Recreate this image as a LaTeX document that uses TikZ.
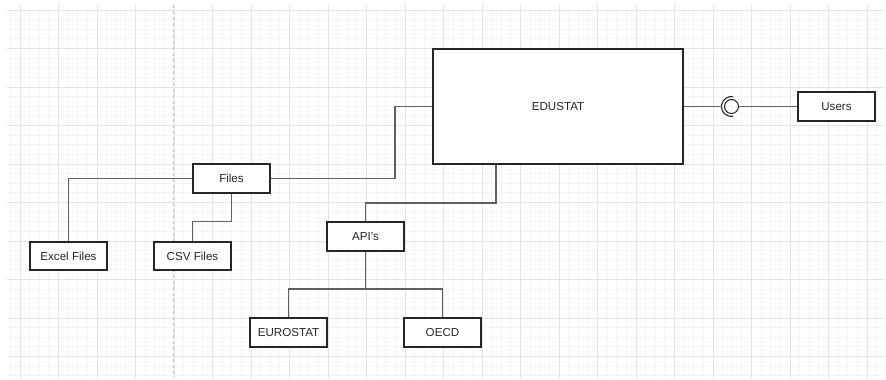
\documentclass[tikz,border=0pt]{standalone}
\usepackage{fontspec}
\setmainfont{Liberation Sans}
\usetikzlibrary{calc}
\definecolor{gridminor}{HTML}{F5F5F5}
\definecolor{gridmajor}{HTML}{E4E4E4}
\definecolor{pagebreak}{HTML}{C4C4C4}
\definecolor{wire}{HTML}{606060}
\definecolor{edge}{HTML}{262626}
\begin{document}
\begin{tikzpicture}[x=0.75pt,y=-0.75pt,
  box/.style={draw=edge,line width=0.8pt,fill=white,minimum width=57.75pt,
    minimum height=21.75pt,inner sep=0pt,text=black!85,font=\fontsize{8.7}{10}\selectfont},
  link/.style={draw=wire,line width=1pt},
  minorline/.style={draw=gridminor,line width=0.75pt},
  majorline/.style={draw=gridmajor,line width=0.75pt}]
\useasboundingbox (0,0) rectangle (886,379);
\fill[white] (0,0) rectangle (886,379);
% background grid
\begin{scope}
  \clip (7,5) rectangle (884,378);
  \foreach \i in {-1,...,91} \draw[minorline] ({20+9.625*\i},5) -- ({20+9.625*\i},378);
  \foreach \j in {-1,...,39} \draw[minorline] (7,{10+9.625*\j}) -- (884,{10+9.625*\j});
  \foreach \i in {0,...,22} \draw[majorline] ({20+38.5*\i},5) -- ({20+38.5*\i},378);
  \foreach \j in {0,...,9} \draw[majorline] (7,{10+38.5*\j}) -- (884,{10+38.5*\j});
\end{scope}
% page break
\draw[pagebreak,line width=0.75pt,dash pattern=on 2.5pt off 2pt] (173.3,5) -- (173.3,378);

% nodes
\node[box,minimum width=187.5pt,minimum height=86.25pt] (edustat) at (558,106.5) {EDUSTAT};
\node[box] (users) at (836.5,106.5) {Users};
\node[box] (files) at (231.5,178.5) {Files};
\node[box,minimum height=21pt] (excel) at (68.5,256) {Excel Files};
\node[box,minimum height=21pt] (csv) at (192.5,256) {CSV Files};
\node[box] (apis) at (365.5,236.5) {API's};
\node[box] (eurostat) at (288.5,332.5) {EUROSTAT};
\node[box] (oecd) at (442.5,332.5) {OECD};

% ball-and-socket interface
\node[draw=edge,line width=0.8pt,circle,minimum size=10.5pt,inner sep=0pt] (ball) at (731.5,106.5) {};
\coordinate (sock) at ($(ball.center)+(-7.5pt,0)$);
\draw[edge,line width=0.8pt] ([shift={(ball.center)}]80:7.5pt) arc (80:280:7.5pt);

% connectors
\coordinate (fj) at (231.5,221.5);
\coordinate (fe) at (395,178.5);
\coordinate (ae) at (496,203);
\coordinate (as) at (365.5,289);
\draw[link] (files.west) -| (excel.north);
\draw[link] (files.south) -- (fj) -| (csv.north);
\draw[link] (files.east) -- (fe) |- (edustat.west);
\draw[link] (apis.north) |- (ae) -- (ae |- edustat.south);
\draw[link] (apis.south) -- (as);
\draw[link] (eurostat.north) |- (as) -| (oecd.north);
\draw[link] (edustat.east) -- (sock);
\draw[link] (ball.east) -- (users.west);
\end{tikzpicture}
\end{document}
